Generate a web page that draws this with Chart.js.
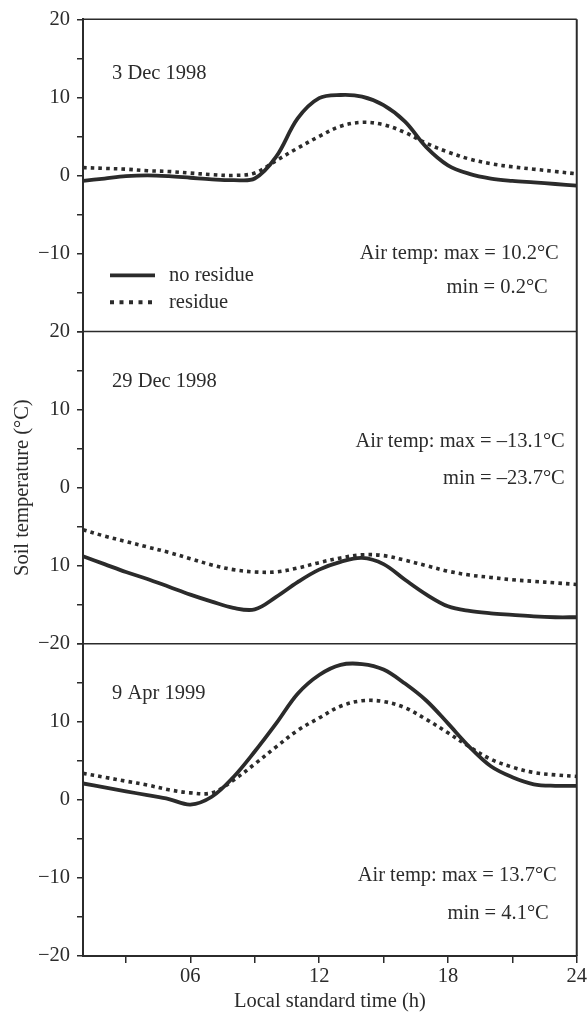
<!DOCTYPE html>
<html>
<head>
<meta charset="utf-8">
<script src="https://cdn.jsdelivr.net/npm/chart.js@4.4.1/dist/chart.umd.min.js"></script>
<style>
  html, body { margin: 0; padding: 0; background: #fff; }
  #wrap { position: relative; width: 588px; height: 1012px; }
</style>
</head>
<body>
<div id="wrap"><canvas id="soil" width="588" height="1012"></canvas></div>
<script>
// ── Data (hourly soil temperature, °C) ───────────────────────────────────────

const HOURS = [1, 2, 3, 4, 5, 6, 7, 8, 9, 10, 11, 12, 13, 14, 15, 16, 17, 18, 19, 20, 21, 22, 23, 24];

const DEC3_BARE    = [-0.7, -0.4, -0.1, 0.0, -0.1, -0.3, -0.5, -0.6, -0.4, 2.4, 7.3, 9.9, 10.3, 10.1, 9.0, 6.9, 3.6, 1.3, 0.2, -0.4, -0.7, -0.9, -1.1, -1.3];
const DEC3_RESIDUE = [1.0, 0.9, 0.8, 0.6, 0.5, 0.3, 0.1, 0.0, 0.3, 1.9, 3.5, 5.0, 6.3, 6.8, 6.5, 5.5, 4.1, 3.0, 2.1, 1.5, 1.1, 0.8, 0.5, 0.2];

const DEC29_BARE    = [-8.8, -9.8, -10.8, -11.7, -12.7, -13.7, -14.6, -15.4, -15.6, -14.0, -12.1, -10.5, -9.5, -9.0, -9.8, -11.8, -13.7, -15.2, -15.8, -16.1, -16.3, -16.5, -16.6, -16.6];
const DEC29_RESIDUE = [-5.4, -6.2, -6.9, -7.6, -8.3, -9.1, -9.9, -10.5, -10.8, -10.8, -10.3, -9.6, -9.0, -8.6, -8.7, -9.3, -10.0, -10.7, -11.2, -11.5, -11.8, -12.0, -12.2, -12.4];

const APR9_BARE    = [2.1, 1.6, 1.1, 0.6, 0.1, -0.6, 0.4, 2.9, 6.2, 9.8, 13.6, 16.0, 17.3, 17.4, 16.7, 14.9, 12.7, 9.8, 6.8, 4.3, 2.9, 2.0, 1.8, 1.8];
const APR9_RESIDUE = [3.4, 2.9, 2.4, 1.9, 1.3, 0.9, 0.9, 2.5, 4.6, 6.8, 8.9, 10.5, 12.0, 12.7, 12.6, 11.8, 10.3, 8.6, 6.8, 5.2, 4.2, 3.5, 3.2, 3.0];

const SERIES_NAMES = ['no residue', 'residue'];
const PANEL_DATES  = ['3 Dec 1998', '29 Dec 1998', '9 Apr 1999'];
const AIR_MAX      = ['10.2', '–13.1', '13.7'];
const AIR_MIN      = ['0.2', '–23.7', '4.1'];

// tick values and labels (as printed on the original figure)
const Y_TICKS    = [-20, -15, -10, -5, 0, 5, 10, 15, 20];
const Y_LABELS_1 = ['', '', '−10', '', '0', '', '10', '', '20'];
const Y_LABELS_2 = ['−20', '', '10', '', '0', '', '10', '', '20'];
const Y_LABELS_3 = ['−20', '', '−10', '', '0', '', '10', '', ''];
const X_TICKS    = [3, 6, 9, 12, 15, 18, 21, 24];
const X_LABELS   = ['', '06', '', '12', '', '18', '', '24'];

// ── Style ────────────────────────────────────────────────────────────────────

const INK  = '#2b2b2b';
const FONT = "'Liberation Serif', 'Times New Roman', serif";
const FONT_SIZE = 20.5;

Chart.defaults.font.family = FONT;
Chart.defaults.font.size   = FONT_SIZE;
Chart.defaults.color       = INK;

const SOLID_STYLE  = { borderWidth: 3.8, borderDash: [] };
const DOTTED_STYLE = { borderWidth: 3.6, borderDash: [3.6, 4.1] };

const toXY = vals => vals.map((v, i) => ({ x: HOURS[i], y: v }));

function series(label, vals, axis, style) {
  return {
    label,
    data: toXY(vals),
    yAxisID: axis,
    borderColor: INK,
    borderWidth: style.borderWidth,
    borderDash: style.borderDash,
    borderCapStyle: 'butt',
    borderJoinStyle: 'round',
    pointRadius: 0,
    tension: 0.35,
    fill: false,
  };
}

function panelAxis(labels, weight, title) {
  return {
    type: 'linear',
    position: 'left',
    stack: 'soil',
    stackWeight: 1,
    weight,
    min: -20,
    max: 20,
    afterBuildTicks: s => { s.ticks = Y_TICKS.map(v => ({ value: v })); },
    afterFit: s => { s.width = 83; },
    ticks: { padding: 7, autoSkip: false, callback: v => labels[Y_TICKS.indexOf(v)] },
    grid: { drawOnChartArea: false, tickLength: 6, color: INK, tickColor: INK, lineWidth: 1.5 },
    border: { display: true, color: INK, width: 2 },
    title: title
      ? { display: true, text: title, color: INK, padding: { top: 10, bottom: 0 } }
      : { display: false },
  };
}

// ── Frame, separators and in-panel text ──────────────────────────────────────

const PANEL_TEXT = [
  { date: 54, air: [18, 234], min: [29, 268] },
  { date: 50, air: [12, 110], min: [12, 147] },
  { date: 50, air: [20, 232], min: [28, 270] },
];

const framePlugin = {
  id: 'frame',
  afterDraw(chart) {
    const { ctx, chartArea: a, scales } = chart;
    const panels = [scales.y1, scales.y2, scales.y3];
    ctx.save();

    ctx.strokeStyle = INK;
    ctx.lineWidth = 1.5;
    ctx.beginPath();
    ctx.moveTo(a.left, a.top);             ctx.lineTo(a.right, a.top);
    ctx.moveTo(a.left, scales.y1.bottom);  ctx.lineTo(a.right, scales.y1.bottom);
    ctx.moveTo(a.left, scales.y2.bottom);  ctx.lineTo(a.right, scales.y2.bottom);
    ctx.stroke();
    ctx.lineWidth = 2;
    ctx.beginPath();
    ctx.moveTo(a.right, a.top);  ctx.lineTo(a.right, a.bottom);
    ctx.stroke();

    ctx.fillStyle = INK;
    ctx.font = `${FONT_SIZE}px ${FONT}`;
    ctx.textBaseline = 'middle';
    panels.forEach((p, i) => {
      const t = PANEL_TEXT[i];
      ctx.textAlign = 'left';
      ctx.fillText(PANEL_DATES[i], a.left + 29, p.top + t.date);
      ctx.textAlign = 'right';
      ctx.fillText(`Air temp: max = ${AIR_MAX[i]}°C`, a.right - t.air[0], p.top + t.air[1]);
      ctx.fillText(`min = ${AIR_MIN[i]}°C`, a.right - t.min[0], p.top + t.min[1]);
    });

    // legend (top panel)
    const ds = chart.data.datasets;
    const top = scales.y1.top;
    [[256, 45], [283, 42]].forEach(([dy, len], i) => {
      const y = top + dy;
      ctx.lineWidth = ds[i].borderWidth + (i ? 0.5 : 0);
      ctx.setLineDash(i ? [4, 5.5] : []);
      ctx.beginPath();
      ctx.moveTo(a.left + 27, y);
      ctx.lineTo(a.left + 27 + len, y);
      ctx.stroke();
      ctx.setLineDash([]);
      ctx.textAlign = 'left';
      ctx.fillText(SERIES_NAMES[i], a.left + 86, y);
    });
    ctx.restore();
  }
};

// ── Chart ────────────────────────────────────────────────────────────────────

new Chart(document.getElementById('soil'), {
  type: 'line',
  data: {
    datasets: [
      series(SERIES_NAMES[0], DEC3_BARE,     'y1', SOLID_STYLE),
      series(SERIES_NAMES[1], DEC3_RESIDUE,  'y1', DOTTED_STYLE),
      series(SERIES_NAMES[0], DEC29_BARE,    'y2', SOLID_STYLE),
      series(SERIES_NAMES[1], DEC29_RESIDUE, 'y2', DOTTED_STYLE),
      series(SERIES_NAMES[0], APR9_BARE,     'y3', SOLID_STYLE),
      series(SERIES_NAMES[1], APR9_RESIDUE,  'y3', DOTTED_STYLE),
    ],
  },
  options: {
    responsive: false,
    animation: false,
    layout: { padding: { left: 0, right: 11, top: 17, bottom: 0 } },
    plugins: { legend: { display: false }, tooltip: { enabled: false } },
    scales: {
      x: {
        type: 'linear',
        min: 1,
        max: 24,
        afterBuildTicks: s => { s.ticks = X_TICKS.map(v => ({ value: v })); },
        afterFit: s => { s.height = 56; },
        ticks: { padding: 1, autoSkip: false, maxRotation: 0, callback: v => X_LABELS[X_TICKS.indexOf(v)] },
        grid: { drawOnChartArea: false, tickLength: 7, color: INK, tickColor: INK, lineWidth: 1.5 },
        border: { display: true, color: INK, width: 2 },
        title: { display: true, text: 'Local standard time (h)', color: INK, padding: { top: 0, bottom: -2 } },
      },
      y1: panelAxis(Y_LABELS_1, 3),
      y2: panelAxis(Y_LABELS_2, 2, 'Soil temperature (°C)'),
      y3: panelAxis(Y_LABELS_3, 1),
    },
  },
  plugins: [framePlugin],
});
</script>
</body>
</html>
